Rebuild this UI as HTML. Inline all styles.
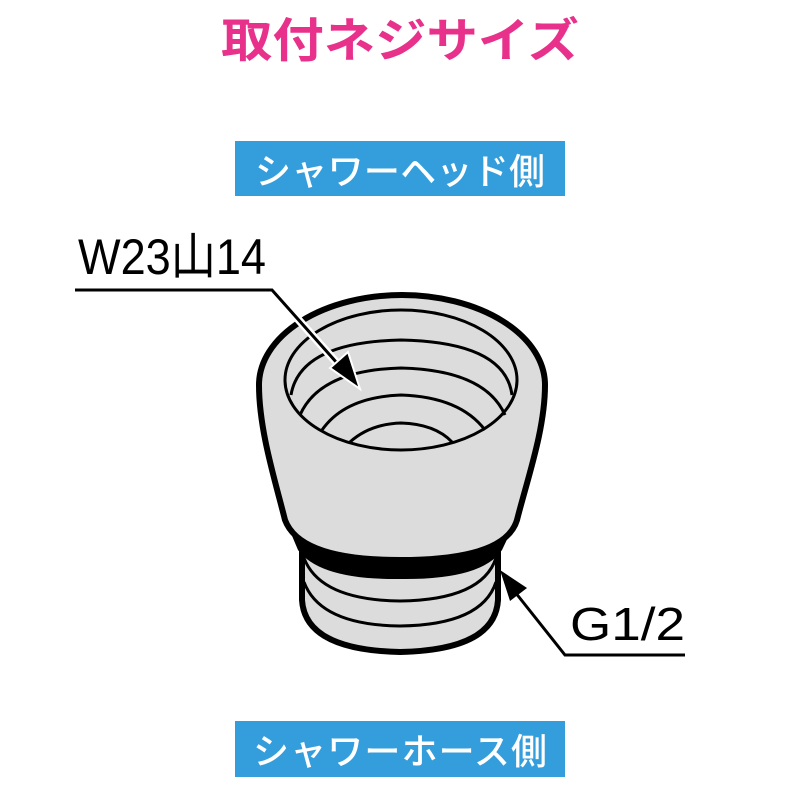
<!DOCTYPE html>
<html><head><meta charset="utf-8"><style>
html,body{margin:0;padding:0;background:#fff}
svg{display:block}
</style></head><body>
<svg width="800" height="800" viewBox="0 0 800 800" xmlns="http://www.w3.org/2000/svg" font-family="'Liberation Sans','Noto Sans CJK JP',sans-serif">
<text x="400" y="57" text-anchor="middle" font-size="47" font-weight="bold" fill="#e8318b" textLength="358" lengthAdjust="spacingAndGlyphs">取付ネジサイズ</text>
<rect x="235" y="141" width="330" height="55" fill="#339edb"/>
<text x="400" y="184" text-anchor="middle" font-size="36" font-weight="500" fill="#fff" textLength="290" lengthAdjust="spacing">シャワーヘッド側</text>
<rect x="235" y="721" width="330" height="56" fill="#339edb"/>
<text x="400" y="764" text-anchor="middle" font-size="36" font-weight="500" fill="#fff" textLength="294" lengthAdjust="spacing">シャワーホース側</text>
<text x="78" y="274" font-size="50" fill="#000" textLength="188" lengthAdjust="spacingAndGlyphs">W23山14</text>
<text x="570" y="640" font-size="46" fill="#000" textLength="115" lengthAdjust="spacingAndGlyphs">G1/2</text>
<!-- lower cylinder -->
<path d="M302 540 L302 600 Q305 650 400 652 Q495 650 498 600 L498 540 Z" fill="#dcdcdc" stroke="#000" stroke-width="6"/>
<path d="M304 558 Q320 600 400 601 Q482 600 496 558" fill="none" stroke="#000" stroke-width="3"/>
<path d="M304 582 Q320 625 400 626 Q482 625 496 582" fill="none" stroke="#000" stroke-width="3"/>
<!-- black band -->
<path d="M282 512 L298 550 Q320 580 400 579 Q482 580 502 550 L520 512 Z" fill="#000"/>
<!-- upper body -->
<path d="M259 385 C259 430 275 480 285 520 Q300 560 400 560 Q505 560 517 520 C527 480 545 430 545 385 A143 90 0 0 0 259 385 Z" fill="#dcdcdc" stroke="#000" stroke-width="6" stroke-linejoin="round"/>
<!-- inner ellipse -->
<ellipse cx="401" cy="380" rx="116" ry="70" fill="#dcdcdc" stroke="#000" stroke-width="3"/>
<path d="M291 395 Q300 342 401 340 Q505 342 512 395" fill="none" stroke="#000" stroke-width="3"/>
<path d="M300 415 Q320 370 401 368 Q485 370 505 415" fill="none" stroke="#000" stroke-width="3"/>
<path d="M322 430 Q345 397 401 395 Q460 397 485 430" fill="none" stroke="#000" stroke-width="3"/>
<path d="M350 442 Q370 424 401 423 Q435 424 452 442" fill="none" stroke="#000" stroke-width="3"/>
<!-- W23 leader -->
<path d="M75 290 L272 290 L345 372" fill="none" stroke="#fff" stroke-width="8"/>
<path d="M75 290 L272 290 L345 372" fill="none" stroke="#000" stroke-width="3"/>
<polygon points="360,389 330,368 348,352" fill="#000" stroke="#fff" stroke-width="2"/>
<!-- G1/2 leader -->
<path d="M515 592 L565 655 L685 655" fill="none" stroke="#000" stroke-width="3"/>
<polygon points="500,570 527,588 510,601" fill="#000"/>
</svg>
</body></html>
